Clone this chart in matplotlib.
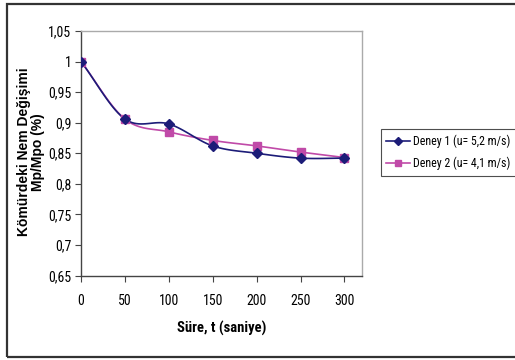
""" Kömür nem değişimi grafiği. """
import numpy as np
import matplotlib
matplotlib.use("Agg")
import matplotlib.pyplot as plt
from matplotlib.lines import Line2D
from matplotlib.patches import Rectangle

sure = [0, 50, 100, 150, 200, 250, 300]
deney1 = [1.000, 0.906, 0.898, 0.862, 0.850, 0.842, 0.842]
deney2 = [1.000, 0.906, 0.885, 0.871, 0.862, 0.852, 0.843]
y_ticks = [0.65, 0.70, 0.75, 0.80, 0.85, 0.90, 0.95, 1.00, 1.05]
y_labels = ['0,65', '0,7', '0,75', '0,8', '0,85', '0,9', '0,95', '1', '1,05']
x_ticks = [0, 50, 100, 150, 200, 250, 300]

narrow = 'Roboto Condensed'


def smooth(xs, ys, n=20):
    """ Catmull-Rom curve through the points, like Excel's smoothed line. """
    px = np.array(xs, float)
    py = np.array(ys, float)
    px = np.concatenate([[2 * px[0] - px[1]], px, [2 * px[-1] - px[-2]]])
    py = np.concatenate([[2 * py[0] - py[1]], py, [2 * py[-1] - py[-2]]])
    out_x, out_y = [], []
    t = np.linspace(0, 1, n)
    for i in range(1, len(px) - 2):
        for arr, out in ((px, out_x), (py, out_y)):
            p0, p1, p2, p3 = arr[i - 1], arr[i], arr[i + 1], arr[i + 2]
            seg = 0.5 * ((2 * p1) + (-p0 + p2) * t
                         + (2 * p0 - 5 * p1 + 4 * p2 - p3) * t ** 2
                         + (-p0 + 3 * p1 - 3 * p2 + p3) * t ** 3)
            out.extend(seg)
    return out_x, out_y


fig = plt.figure(figsize=(5.15, 3.6), dpi=100)
fig.patches.append(Rectangle((7 / 515, 3 / 360), 1.0, 353 / 360, transform=fig.transFigure,
                             fill=False, edgecolor='#333333', linewidth=1.6))
ax = fig.add_axes([81 / 515, 1 - 275.5 / 360, 281 / 515, 244.5 / 360])

c1 = '#1c1c78'
c2 = '#c04aa8'
sx, sy = smooth(sure, deney1)
ax.plot(sx, sy, color=c1, linewidth=1.2, zorder=3)
ax.plot(sure, deney1, linestyle='none', marker='D', markersize=5, color=c1, zorder=4)
sx, sy = smooth(sure, deney2)
ax.plot(sx, sy, color=c2, linewidth=1.2, zorder=2)
ax.plot(sure, deney2, linestyle='none', marker='s', markersize=5.5, color=c2, zorder=3)

ax.set_xlim(0, 320)
ax.set_ylim(0.65, 1.05)
ax.set_xticks(x_ticks)
ax.set_xticklabels([str(v) for v in x_ticks], fontfamily=narrow, fontsize=10)
ax.set_yticks(y_ticks)
ax.set_yticklabels(y_labels, fontfamily=narrow, fontsize=10)
ax.tick_params(direction='out', length=4, width=0.8, color='#444444', pad=3)
ax.tick_params(axis='x', pad=9)

for side in ('left', 'bottom'):
    ax.spines[side].set_color('#444444')
    ax.spines[side].set_linewidth(1.0)
for side in ('top', 'right'):
    ax.spines[side].set_color('#aaaaaa')
    ax.spines[side].set_linewidth(1.0)

ax.set_xlabel('Süre, t (saniye)', fontfamily=narrow, fontweight='bold', fontsize=10.5, labelpad=10)
fig.text(31 / 515, 1 - 152 / 360, 'Kömürdeki Nem Değişimi\nMp/Mpo (%)', rotation=90,
         ha='center', va='center', fontfamily='Liberation Sans', fontweight='bold',
         fontsize=10, linespacing=0.95)

handles = [Line2D([], [], color=c1, marker='D', markersize=4, linewidth=1.2),
           Line2D([], [], color=c2, marker='s', markersize=4.5, linewidth=1.2)]
leg = fig.legend(handles, ['Deney 1 (u= 5,2 m/s)', 'Deney 2 (u= 4,1 m/s)'],
                 loc='upper left', bbox_to_anchor=(381 / 515, 1 - 129 / 360),
                 prop={'family': narrow, 'size': 8.6}, frameon=True, fancybox=False,
                 handlelength=2.0, handletextpad=0.25, borderpad=0.45, borderaxespad=0,
                 labelspacing=0.75)
leg.get_frame().set_edgecolor('#222222')
leg.get_frame().set_linewidth(0.8)

fig.savefig('out.png', dpi=100)
